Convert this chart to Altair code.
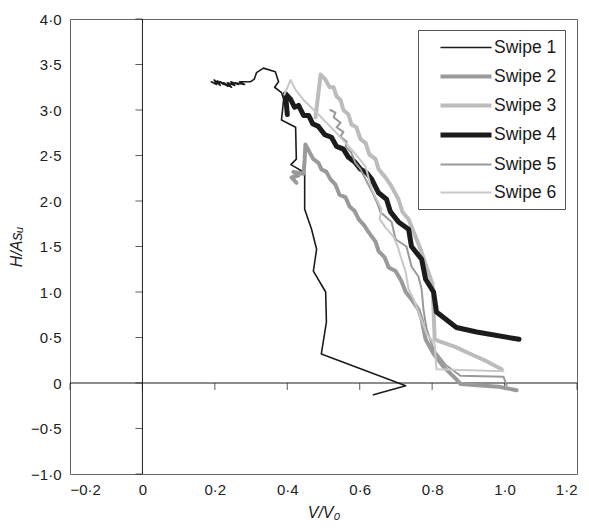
import altair as alt
import pandas as pd

names = ["Swipe 1", "Swipe 2", "Swipe 3", "Swipe 4", "Swipe 5", "Swipe 6"]
colors = ["#1c1c1c", "#9a9a9a", "#bcbcbc", "#1c1c1c", "#999999", "#c8c8c8"]
widths = [1.6, 4.0, 4.0, 5.0, 2.0, 2.0]

swipe1_v = [0.19, 0.205, 0.198, 0.215, 0.207, 0.225, 0.215, 0.236, 0.224, 0.246,
            0.235, 0.255, 0.244, 0.265, 0.256, 0.282, 0.268, 0.298,
            0.309, 0.315, 0.334, 0.367, 0.376, 0.365, 0.384, 0.39, 0.384, 0.423,
            0.425, 0.41, 0.423, 0.448, 0.448, 0.467, 0.481, 0.472, 0.506, 0.508,
            0.494, 0.727, 0.638]
swipe1_h = [3.31, 3.28, 3.33, 3.27, 3.32, 3.28, 3.31, 3.26, 3.30, 3.25,
            3.30, 3.27, 3.31, 3.28, 3.30, 3.28, 3.31, 3.31,
            3.34, 3.41, 3.46, 3.42, 3.31, 3.25, 3.19, 3.12, 2.89, 2.81,
            2.46, 2.40, 2.37, 2.31, 1.91, 1.69, 1.47, 1.23, 1.00, 0.67,
            0.32, -0.03, -0.13]

swipe2_v = [0.425, 0.412, 0.431, 0.417, 0.445, 0.448, 0.450, 0.461, 0.472, 0.486,
            0.494, 0.508, 0.519, 0.533, 0.544, 0.561, 0.572, 0.586, 0.597, 0.613,
            0.624, 0.644, 0.652, 0.669, 0.68, 0.699, 0.715, 0.727, 0.743, 0.762,
            0.771, 0.782, 0.804, 0.831, 0.867, 0.878, 0.983, 1.033]
swipe2_h = [2.20, 2.26, 2.28, 2.32, 2.30, 2.46, 2.62, 2.54, 2.46, 2.42,
            2.35, 2.32, 2.24, 2.18, 2.07, 2.04, 1.94, 1.89, 1.80, 1.73,
            1.66, 1.55, 1.45, 1.38, 1.27, 1.23, 1.12, 1.00, 0.92, 0.81,
            0.70, 0.48, 0.32, 0.18, 0.04, -0.01, -0.04, -0.08]

swipe3_v = [0.478, 0.492, 0.506, 0.517, 0.528, 0.536, 0.547, 0.555, 0.569, 0.577,
            0.591, 0.602, 0.616, 0.627, 0.644, 0.652, 0.671, 0.688, 0.707, 0.718,
            0.735, 0.749, 0.768, 0.779, 0.801, 0.807, 0.818, 0.862, 0.90, 0.95,
            0.992]
swipe3_h = [2.92, 3.39, 3.33, 3.25, 3.25, 3.15, 3.11, 3.00, 2.95, 2.84,
            2.81, 2.68, 2.64, 2.51, 2.46, 2.35, 2.26, 2.16, 2.02, 1.88,
            1.80, 1.66, 1.47, 1.34, 1.09, 0.48, 0.46, 0.40, 0.33, 0.24,
            0.15]

swipe4_v = [0.40, 0.395, 0.409, 0.42, 0.431, 0.445, 0.459, 0.47, 0.486, 0.503,
            0.522, 0.536, 0.555, 0.569, 0.586, 0.602, 0.619, 0.633, 0.652, 0.674,
            0.685, 0.707, 0.735, 0.743, 0.771, 0.782, 0.804, 0.812, 0.867, 0.923,
            1.04]
swipe4_h = [2.95, 3.18, 3.12, 3.03, 3.05, 2.94, 2.94, 2.85, 2.82, 2.73,
            2.70, 2.60, 2.57, 2.48, 2.43, 2.35, 2.31, 2.24, 2.09, 2.02,
            1.88, 1.77, 1.69, 1.50, 1.36, 1.14, 1.00, 0.78, 0.61, 0.56,
            0.48]

swipe5_v = [0.519, 0.533, 0.528, 0.547, 0.536, 0.555, 0.547, 0.564, 0.561, 0.577,
            0.588, 0.602, 0.616, 0.638, 0.652, 0.657, 0.688, 0.699, 0.729, 0.743,
            0.762, 0.771, 0.776, 0.785, 0.804, 0.837, 0.878, 0.997, 1.006]
swipe5_h = [3.00, 2.97, 2.92, 2.86, 2.81, 2.76, 2.71, 2.65, 2.60, 2.53,
            2.42, 2.35, 2.24, 2.07, 1.94, 1.88, 1.77, 1.58, 1.50, 1.28,
            1.17, 1.03, 0.81, 0.59, 0.37, 0.20, 0.08, 0.07, -0.03]

swipe6_v = [0.392, 0.409, 0.423, 0.445, 0.486, 0.533, 0.577, 0.616, 0.633, 0.66,
            0.655, 0.671, 0.693, 0.705, 0.713, 0.727, 0.735, 0.749, 0.768, 0.785,
            0.807, 0.812, 0.997]
swipe6_h = [3.17, 3.33, 3.22, 3.11, 2.95, 2.76, 2.57, 2.38, 2.13, 1.91,
            1.80, 1.71, 1.61, 1.50, 1.39, 1.22, 1.03, 0.92, 0.72, 0.54,
            0.43, 0.15, 0.13]

series_v = [swipe1_v, swipe2_v, swipe3_v, swipe4_v, swipe5_v, swipe6_v]
series_h = [swipe1_h, swipe2_h, swipe3_h, swipe4_h, swipe5_h, swipe6_h]

x_ticks = [-0.2, 0.0, 0.2, 0.4, 0.6, 0.8, 1.0, 1.2]
y_ticks = [-1.0, -0.5, 0.0, 0.5, 1.0, 1.5, 2.0, 2.5, 3.0, 3.5, 4.0]

rows = []
for name, vs, hs in zip(names, series_v, series_h):
    for i, (v, h) in enumerate(zip(vs, hs)):
        rows.append({"swipe": name, "idx": i, "v": v, "h": h})
df = pd.DataFrame(rows)

FONT = "Liberation Sans"
xscale = alt.Scale(domain=[-0.2, 1.2], nice=False, zero=False)
yscale = alt.Scale(domain=[-1.0, 4.0], nice=False, zero=False)
label_expr = "datum.value == 0 ? '0' : replace(format(datum.value, '.1f'), '.', '·')"

legend_cfg = dict(
    title=None, orient="none", legendX=348, legendY=11,
    symbolType="M-3,0L3,0", symbolSize=289, symbolOffset=29,
    labelFontSize=17.5, labelFont=FONT, labelColor="#1a1a1a", labelOffset=17,
    strokeColor="#555", fillColor="white", padding=8, rowPadding=10,
)

lines = alt.Chart(df).mark_line(strokeJoin="round", strokeCap="round").encode(
    x=alt.X("v:Q", scale=xscale,
            axis=alt.Axis(values=x_ticks, labelExpr=label_expr, ticks=False,
                          domain=False, grid=False, title="V/V₀",
                          titleFontStyle="italic", titleFontWeight="normal",
                          titleFontSize=16, labelPadding=8, titlePadding=7)),
    y=alt.Y("h:Q", scale=yscale,
            axis=alt.Axis(values=y_ticks, labelExpr=label_expr, ticks=False,
                          domain=False, grid=False, title="H/Asᵤ",
                          titleFontStyle="italic", titleFontWeight="normal",
                          titleFontSize=16, labelPadding=9, titlePadding=6)),
    color=alt.Color("swipe:N", scale=alt.Scale(domain=names, range=colors),
                    legend=alt.Legend(**legend_cfg)),
    strokeWidth=alt.StrokeWidth("swipe:N",
                                scale=alt.Scale(type="ordinal", domain=names, range=widths),
                                legend=alt.Legend(**legend_cfg)),
    order="idx:Q",
)

zero_df = pd.DataFrame({"z": [0.0]})
vline = alt.Chart(zero_df).mark_rule(color="#1a1a1a", strokeWidth=1).encode(x=alt.X("z:Q", scale=xscale))
hline = alt.Chart(zero_df).mark_rule(color="#1a1a1a", strokeWidth=1).encode(y=alt.Y("z:Q", scale=yscale))

xt_df = pd.DataFrame({"t": x_ticks})
yt_df = pd.DataFrame({"t": y_ticks})
xticks = alt.Chart(xt_df).mark_tick(orient="vertical", size=7, thickness=1, yOffset=3.5,
                                    color="#1a1a1a").encode(
    x=alt.X("t:Q", scale=xscale), y=alt.datum(0.0))
yticks = alt.Chart(yt_df).mark_tick(orient="horizontal", size=7, thickness=1, xOffset=-3.5,
                                    color="#1a1a1a").encode(
    y=alt.Y("t:Q", scale=yscale), x=alt.datum(0.0))

chart = alt.layer(vline, hline, xticks, yticks, lines).properties(
    width=507, height=455,
    autosize=alt.AutoSizeParams(type="none"),
    padding={"left": 70, "top": 19, "right": 12, "bottom": 56},
).configure_view(stroke="#666", strokeWidth=1).configure_axis(
    labelFont=FONT, titleFont=FONT, labelFontSize=15, labelColor="#222",
    titleColor="#222",
)

chart.save("out.html", embed_options={"renderer": "svg", "actions": False})
